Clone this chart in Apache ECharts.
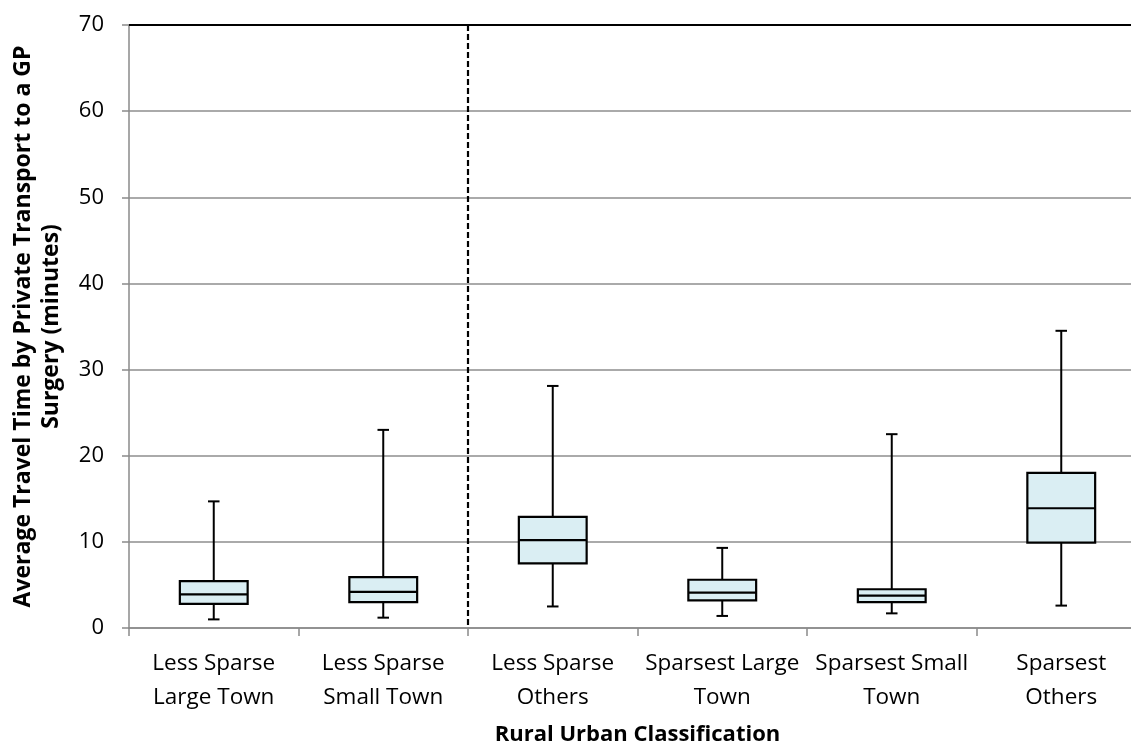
<!DOCTYPE html>
<html>
<head>
<meta charset="utf-8">
<script src="https://cdn.jsdelivr.net/npm/echarts@6/dist/echarts.min.js"></script>
<style>html,body{margin:0;padding:0;background:#fff;overflow:hidden;width:1131px;height:745px}#c{width:1146px;height:745px}</style>
</head>
<body>
<div id="c"></div>
<script>
var categories = ['Less Sparse\nLarge Town', 'Less Sparse\nSmall Town', 'Less Sparse\nOthers', 'Sparsest Large\nTown', 'Sparsest Small\nTown', 'Sparsest\nOthers'];
var whiskerLow = [1.0, 1.2, 2.5, 1.4, 1.7, 2.6];
var q1 = [2.8, 3.0, 7.5, 3.2, 3.0, 9.9];
var median = [3.9, 4.2, 10.2, 4.1, 3.75, 13.9];
var q3 = [5.45, 5.9, 12.9, 5.6, 4.5, 18.0];
var whiskerHigh = [14.7, 23.0, 28.1, 9.3, 22.5, 34.5];
var yTicks = [0, 10, 20, 30, 40, 50, 60, 70];
var dividerAfter = 'Less Sparse\nSmall Town';

var data = categories.map(function (c, i) {
  return [i, whiskerLow[i], q1[i], median[i], q3[i], whiskerHigh[i]];
});
var dividerIdx = categories.indexOf(dividerAfter);

var FONT = 'Open Sans';
var chart = echarts.init(document.getElementById('c'), null, {renderer: 'canvas'});
chart.setOption({
  animation: false,
  backgroundColor: '#fff',
  grid: {left: 129, top: 25, right: 0, bottom: 117, containLabel: false, outerBoundsMode: 'none'},
  xAxis: {
    type: 'category',
    data: categories,
    boundaryGap: true,
    name: 'Rural Urban Classification',
    nameLocation: 'middle',
    nameGap: 96,
    nameTextStyle: {fontFamily: FONT, fontSize: 22, fontWeight: 'bold', color: '#000'},
    axisLine: {show: true, lineStyle: {color: '#8a8a8a', width: 1.5}},
    axisTick: {show: true, alignWithLabel: false, length: 8, lineStyle: {color: '#8a8a8a', width: 1.5}},
    axisLabel: {fontFamily: FONT, fontSize: 22.5, color: '#000', lineHeight: 34, margin: 19, interval: 0},
    splitLine: {show: false}
  },
  yAxis: {
    type: 'value',
    min: 0, max: 70, interval: 10,
    name: 'Average Travel Time by Private Transport to a GP\nSurgery (minutes)',
    nameLocation: 'middle',
    nameGap: 64,
    nameTextStyle: {fontFamily: FONT, fontSize: 23, fontWeight: 'bold', color: '#000', lineHeight: 28, align: 'center'},
    axisLine: {show: true, lineStyle: {color: '#8a8a8a', width: 1.5}},
    axisTick: {show: true, length: 7, lineStyle: {color: '#8a8a8a', width: 1.5}},
    axisLabel: {fontFamily: FONT, fontSize: 22, color: '#000', margin: 25,
      formatter: function (v) { return yTicks.indexOf(v) >= 0 ? String(v) : ''; }},
    splitLine: {show: true, lineStyle: {color: '#8e8e8e', width: 1.5}}
  },
  series: [{
    type: 'custom',
    data: [[dividerIdx, 0, 70]],
    encode: {x: 0, y: [1, 2]},
    silent: true,
    renderItem: function (params, api) {
      var idx = api.value(0);
      var band = api.size([1, 0])[0];
      var top = api.coord([idx, api.value(2)]);
      var bot = api.coord([idx, api.value(1)]);
      var x = top[0] + band / 2;
      return {type: 'line', shape: {x1: x, y1: top[1], x2: x, y2: bot[1]},
        style: {stroke: '#000', lineWidth: 2.2, lineDash: [6, 3]}};
    }
  }, {
    type: 'custom',
    data: data,
    encode: {x: 0, y: [1, 2, 3, 4, 5]},
    renderItem: function (params, api) {
      var idx = api.value(0);
      var pLow = api.coord([idx, api.value(1)]);
      var pQ1 = api.coord([idx, api.value(2)]);
      var pMed = api.coord([idx, api.value(3)]);
      var pQ3 = api.coord([idx, api.value(4)]);
      var pHigh = api.coord([idx, api.value(5)]);
      var band = api.size([1, 0])[0];
      var bw = band * 0.4, cw = band * 0.068;
      var x = pLow[0];
      var ls = {stroke: '#000', lineWidth: 2};
      return {type: 'group', children: [
        {type: 'line', shape: {x1: x, y1: pHigh[1], x2: x, y2: pQ3[1]}, style: ls},
        {type: 'line', shape: {x1: x, y1: pQ1[1], x2: x, y2: pLow[1]}, style: ls},
        {type: 'line', shape: {x1: x - cw / 2, y1: pHigh[1], x2: x + cw / 2, y2: pHigh[1]}, style: ls},
        {type: 'line', shape: {x1: x - cw / 2, y1: pLow[1], x2: x + cw / 2, y2: pLow[1]}, style: ls},
        {type: 'rect', shape: {x: x - bw / 2, y: pQ3[1], width: bw, height: pQ1[1] - pQ3[1]}, style: {fill: '#DAEEF3', stroke: '#000', lineWidth: 2.2}},
        {type: 'line', shape: {x1: x - bw / 2, y1: pMed[1], x2: x + bw / 2, y2: pMed[1]}, style: {stroke: '#000', lineWidth: 2.2}}
      ]};
    },
    markLine: {
      silent: true, symbol: 'none', label: {show: false},
      lineStyle: {color: '#000', width: 2, type: 'solid'},
      data: [{yAxis: 70}]
    }
  }]
});
</script>
</body>
</html>
